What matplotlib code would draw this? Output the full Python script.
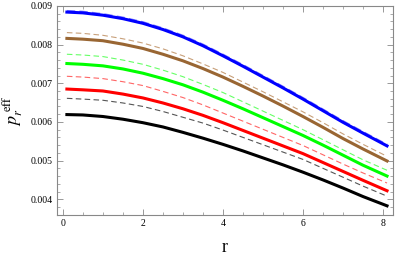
import numpy as np
from matplotlib import pyplot as plt
from matplotlib.ticker import MultipleLocator

plt.rcParams['font.family'] = ['Liberation Serif', 'DejaVu Serif']
plt.rcParams['mathtext.fontset'] = 'stix'

# radius samples
r = [0.1, 0.5, 1, 1.5, 2, 2.5, 3, 3.5, 4, 4.5, 5, 5.5, 6, 6.5, 7, 7.5, 8.1]

# solid curves
blue = [0.00884, 0.00882, 0.00876, 0.00867, 0.00855, 0.00839, 0.00820, 0.00797, 0.00771,
        0.00744, 0.00716, 0.00688, 0.00659, 0.00629, 0.00599, 0.00571, 0.00538]
brown = [0.00816, 0.00814, 0.00810, 0.00801, 0.00790, 0.00775, 0.00758, 0.00738, 0.00716,
         0.00692, 0.00667, 0.00641, 0.00614, 0.00586, 0.00557, 0.00530, 0.00499]
green = [0.00751, 0.00749, 0.00745, 0.00737, 0.00726, 0.00712, 0.00696, 0.00677, 0.00656,
         0.00634, 0.00611, 0.00588, 0.00565, 0.00540, 0.00514, 0.00488, 0.00460]
red = [0.00685, 0.00683, 0.00680, 0.00672, 0.00662, 0.00649, 0.00634, 0.00617, 0.00598,
       0.00578, 0.00558, 0.00538, 0.00518, 0.00495, 0.00472, 0.00449, 0.00422]
black = [0.00619, 0.00618, 0.00614, 0.00607, 0.00598, 0.00587, 0.00573, 0.00558, 0.00542,
         0.00525, 0.00507, 0.00489, 0.00470, 0.00450, 0.00429, 0.00407, 0.00383]

# dashed curves
blue_d = [0.00886, 0.00884, 0.00878, 0.00869, 0.00857, 0.00841, 0.00822, 0.00799, 0.00773,
          0.00746, 0.00718, 0.00690, 0.00661, 0.00631, 0.00601, 0.00573, 0.00540]
brown_d = [0.00831, 0.00829, 0.00824, 0.00815, 0.00804, 0.00789, 0.00771, 0.00750, 0.00728,
           0.00703, 0.00678, 0.00652, 0.00626, 0.00598, 0.00569, 0.00542, 0.00511]
green_d = [0.00775, 0.00773, 0.00769, 0.00760, 0.00749, 0.00734, 0.00717, 0.00697, 0.00676,
           0.00652, 0.00628, 0.00604, 0.00580, 0.00554, 0.00528, 0.00502, 0.00475]
red_d = [0.00718, 0.00716, 0.00712, 0.00704, 0.00694, 0.00679, 0.00663, 0.00644, 0.00623,
         0.00602, 0.00581, 0.00560, 0.00539, 0.00515, 0.00491, 0.00468, 0.00442]
black_d = [0.00661, 0.00659, 0.00656, 0.00649, 0.00640, 0.00627, 0.00612, 0.00597, 0.00579,
           0.00560, 0.00541, 0.00522, 0.00503, 0.00480, 0.00457, 0.00434, 0.00408]

fig = plt.figure(figsize=(3.95, 2.57), dpi=100)
ax = fig.add_axes([0.144, 0.163, 0.851, 0.814])

# dashed ones first, solid on top
ax.plot(r, blue_d, color='#8080ff', lw=2.0, ls=(0, (3, 1.5)))
ax.plot(r, brown_d, color='#c8a07a', lw=0.8, ls=(0, (5, 3)))
ax.plot(r, green_d, color='#66ff66', lw=0.8, ls=(0, (5, 3)))
ax.plot(r, red_d, color='#ff6666', lw=0.8, ls=(0, (5, 3)))
ax.plot(r, black_d, color='#555555', lw=0.8, ls=(0, (5, 3)))

ax.plot(r, blue, color='#0000ff', lw=2.2)
ax.plot(r, brown, color='#996633', lw=2.2)
ax.plot(r, green, color='#00ff00', lw=2.2)
ax.plot(r, red, color='#ff0000', lw=2.2)
ax.plot(r, black, color='black', lw=2.2)

ax.set_xlim(-0.15, 8.25)
ax.set_ylim(0.00359, 0.009)
ax.xaxis.set_major_locator(MultipleLocator(2))
ax.xaxis.set_minor_locator(MultipleLocator(0.5))
ax.yaxis.set_major_locator(MultipleLocator(0.001))
ax.yaxis.set_minor_locator(MultipleLocator(0.0002))
ax.yaxis.set_major_formatter(plt.FormatStrFormatter('%.3f'))
ax.tick_params(which='both', direction='in', top=True, right=True,
               color='#888888', labelsize=7, pad=3)
ax.tick_params(which='major', length=4, width=0.6)
ax.tick_params(which='minor', length=2, width=0.5)
for s in ax.spines.values():
    s.set_color('#888888')
    s.set_linewidth(0.8)

ax.set_xlabel('r', fontsize=13, labelpad=8)
ax.set_ylabel(r'$p_r^{\;\mathrm{eff}}$', fontsize=13, labelpad=4)

fig.savefig('out.png', dpi=100)
